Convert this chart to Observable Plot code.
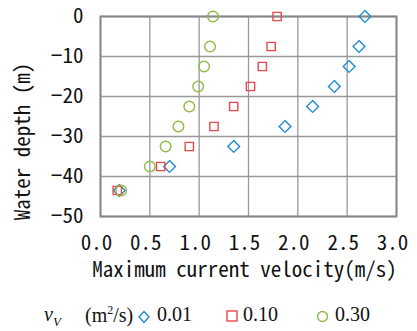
<!DOCTYPE html>
<html><head><meta charset="utf-8">
<script src="https://cdn.jsdelivr.net/npm/d3@7"></script>
<script src="https://cdn.jsdelivr.net/npm/@observablehq/plot@0.6"></script>
<style>
body{margin:0;background:#fff;}
#legend{position:relative;height:41px;font-family:"Liberation Serif","Times New Roman",serif;font-size:20px;color:#111;}
#legend span{position:absolute;top:13px;white-space:nowrap;}
#legend svg{position:absolute;}
</style>
</head><body>
<div id="chart"></div>
<div id="legend"></div>
<script>
const depths = [0, -7.5, -12.5, -17.5, -22.5, -27.5, -32.5, -37.5, -43.5];
const vel001 = [2.68, 2.62, 2.52, 2.37, 2.15, 1.87, 1.35, 0.70, 0.19];
const vel010 = [1.79, 1.73, 1.64, 1.52, 1.35, 1.15, 0.90, 0.61, 0.17];
const vel030 = [1.14, 1.11, 1.05, 0.99, 0.90, 0.79, 0.66, 0.50, 0.21];
const seriesNames = ["0.01", "0.10", "0.30"];
const xTicks = [0, 0.5, 1.0, 1.5, 2.0, 2.5, 3.0];
const yTicks = [0, -10, -20, -30, -40, -50];
const xLabel = "Maximum current velocity(m/s)";
const yLabel = "Water depth (m)";

const colors = {"0.01": "#1a8bd4", "0.10": "#e8474c", "0.30": "#8fbb47"};
const symbols = {"0.01": "diamond2", "0.10": "square2", "0.30": "circle"};
const rows = [];
[vel001, vel010, vel030].forEach((vals, i) => {
  vals.forEach((v, j) => rows.push({s: seriesNames[i], v, d: depths[j]}));
});
const mono = "'Noto Sans Mono CJK JP','DejaVu Sans Mono',monospace";

const plot = Plot.plot({
  width: 417, height: 290,
  marginLeft: 100, marginRight: 21, marginTop: 16, marginBottom: 74,
  style: {fontFamily: mono, fontSize: "21px", color: "#111", background: "#fff"},
  x: {domain: [0, 3], ticks: xTicks, tickFormat: d => d.toFixed(1), label: null},
  y: {domain: [-50, 0], ticks: yTicks, label: null},
  marks: [
    Plot.gridX(xTicks, {stroke: "#999", strokeOpacity: 1, strokeWidth: 1.3}),
    Plot.gridY(yTicks, {stroke: "#999", strokeOpacity: 1, strokeWidth: 1.3}),
    Plot.frame({stroke: "#888", strokeWidth: 2}),
    Plot.axisX(xTicks, {tickSize: 0, tickPadding: 19, tickFormat: d => d.toFixed(1), label: null, dx: -4, fontSize: 21}),
    Plot.axisY(yTicks, {tickSize: 0, tickPadding: 17, label: null, fontSize: 21}),
    Plot.text([xLabel], {frameAnchor: "bottom", dy: 60, dx: -4, fontSize: 21, fill: "#111"}),
    Plot.text([yLabel], {frameAnchor: "left", textAnchor: "middle", dx: -77, dy: 25, rotate: -90, fontSize: 21, fill: "#111"}),
    Plot.dot(rows, {x: "v", y: "d", symbol: d => symbols[d.s], stroke: d => colors[d.s], r: 5.3, strokeWidth: 1.4, fill: "none"})
  ]
});
document.getElementById("chart").appendChild(plot);

const leg = document.getElementById("legend");
leg.innerHTML = `
<span style="left:44px"><i>v<sub style="font-size:13px">V</sub></i></span>
<span style="left:85px">(m<sup style="font-size:12px">2</sup>/s)</span>
<svg style="left:138px;top:20px" width="12" height="14"><path d="M6,1.5 L11,7 L6,12.5 L1,7 Z" fill="none" stroke="${colors["0.01"]}" stroke-width="1.4"/></svg>
<span style="left:157px">0.01</span>
<svg style="left:226px;top:20px" width="12" height="12"><rect x="1" y="1" width="10" height="10" fill="none" stroke="${colors["0.10"]}" stroke-width="1.4"/></svg>
<span style="left:243px">0.10</span>
<svg style="left:316px;top:20px" width="13" height="13"><circle cx="6.5" cy="6.5" r="5" fill="none" stroke="${colors["0.30"]}" stroke-width="1.4"/></svg>
<span style="left:335px">0.30</span>`;
</script>
</body></html>
